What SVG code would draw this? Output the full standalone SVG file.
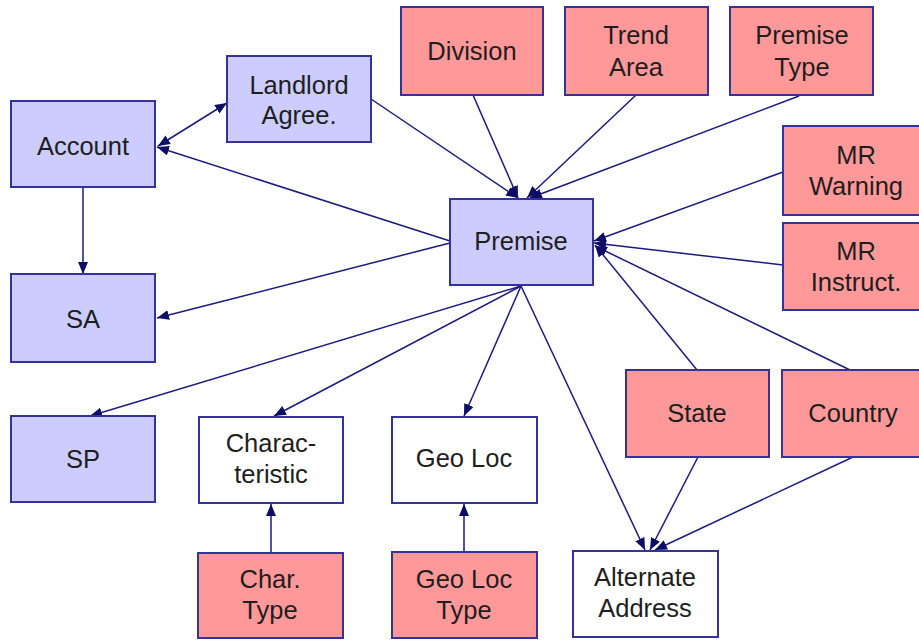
<svg xmlns="http://www.w3.org/2000/svg" width="919" height="641" viewBox="0 0 919 641">
<style>
.b{fill:#ccccff;stroke:#333399;stroke-width:2}
.r{fill:#ff9999;stroke:#333399;stroke-width:2}
.w{fill:#ffffff;stroke:#333399;stroke-width:2}
text{font-family:"Liberation Sans",Arial,sans-serif;font-size:25.5px;fill:#1e1e1e;text-anchor:middle}
.c line{stroke:#1a1a80;stroke-width:1.5;marker-end:url(#ah)}
</style>
<defs>
<marker id="ah" viewBox="0 0 12 10" refX="12" refY="5" markerWidth="12" markerHeight="10" markerUnits="userSpaceOnUse" orient="auto-start-reverse">
<path d="M0,0 L12,5 L0,10 z" fill="#0d0d66"/>
</marker>
</defs>
<rect width="919" height="641" fill="#ffffff"/>
<g class="c" id="connectors">
<line x1="83" y1="187" x2="83" y2="274"/>
<line x1="158" y1="146" x2="227" y2="103" style="marker-start:url(#ah)"/>
<line x1="450" y1="241" x2="157" y2="147"/>
<line x1="450" y1="243" x2="157" y2="318"/>
<line x1="371" y1="99" x2="518" y2="198"/>
<line x1="473" y1="95" x2="518" y2="198"/>
<line x1="636" y1="95" x2="527" y2="198"/>
<line x1="799" y1="96" x2="530" y2="198"/>
<line x1="783" y1="172" x2="594" y2="241"/>
<line x1="783" y1="265" x2="594" y2="243"/>
<line x1="697" y1="370" x2="595" y2="245"/>
<line x1="850" y1="370" x2="595" y2="246"/>
<line x1="521" y1="286" x2="90" y2="416"/>
<line x1="521" y1="286" x2="274" y2="416"/>
<line x1="521" y1="286" x2="464" y2="416"/>
<line x1="521" y1="286" x2="645" y2="550"/>
<line x1="698" y1="457" x2="650" y2="550"/>
<line x1="853" y1="457" x2="655" y2="550"/>
<line x1="271" y1="553" x2="271" y2="504"/>
<line x1="464" y1="552" x2="464" y2="504"/>
</g>
<g id="account"><rect class="b" x="11" y="101" width="144" height="86"/><text x="83" y="155">Account</text></g>
<g id="landlord"><rect class="b" x="227" y="56" width="144" height="86"/><text x="299" y="94">Landlord</text><text x="299" y="124">Agree.</text></g>
<g id="sa"><rect class="b" x="11" y="274" width="144" height="88"/><text x="83" y="328">SA</text></g>
<g id="premise"><rect class="b" x="450" y="199" width="143" height="86"/><text x="521" y="250">Premise</text></g>
<g id="division"><rect class="r" x="401" y="7" width="142" height="88"/><text x="472" y="60">Division</text></g>
<g id="trendarea"><rect class="r" x="565" y="7" width="143" height="88"/><text x="636" y="44">Trend</text><text x="636" y="76">Area</text></g>
<g id="premisetype"><rect class="r" x="730" y="7" width="143" height="88"/><text x="802" y="44">Premise</text><text x="802" y="76">Type</text></g>
<g id="mrwarning"><rect class="r" x="783" y="126" width="143" height="89"/><text x="856" y="164">MR</text><text x="856" y="195">Warning</text></g>
<g id="mrinstruct"><rect class="r" x="783" y="223" width="143" height="87"/><text x="856" y="260">MR</text><text x="856" y="291">Instruct.</text></g>
<g id="state"><rect class="r" x="626" y="370" width="143" height="87"/><text x="697" y="422">State</text></g>
<g id="country"><rect class="r" x="782" y="370" width="143" height="87"/><text x="853" y="422">Country</text></g>
<g id="sp"><rect class="b" x="11" y="416" width="144" height="86"/><text x="83" y="468">SP</text></g>
<g id="characteristic"><rect class="w" x="199" y="417" width="144" height="86"/><text x="271" y="452">Charac-</text><text x="271" y="483">teristic</text></g>
<g id="geoloc"><rect class="w" x="392" y="417" width="145" height="86"/><text x="464" y="467">Geo Loc</text></g>
<g id="chartype"><rect class="r" x="198" y="553" width="145" height="85"/><text x="270" y="588">Char.</text><text x="270" y="619">Type</text></g>
<g id="geoloctype"><rect class="r" x="392" y="552" width="145" height="86"/><text x="464" y="588">Geo Loc</text><text x="464" y="619">Type</text></g>
<g id="altaddress"><rect class="w" x="573" y="551" width="145" height="86"/><text x="645" y="586">Alternate</text><text x="645" y="617">Address</text></g>
</svg>
